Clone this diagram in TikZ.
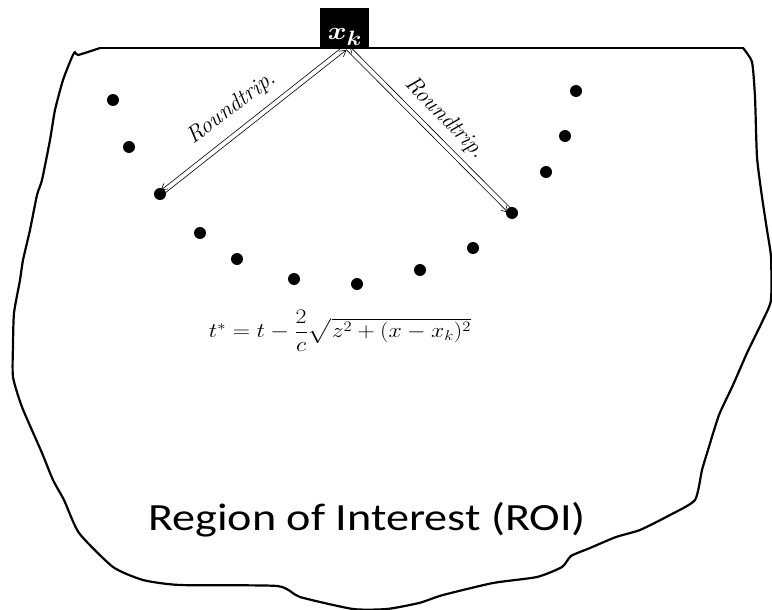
\documentclass[tikz,border=0pt]{standalone}
\usepackage{amsmath}
\usepackage{graphicx}
\usepackage{fontspec}
\newfontfamily\roifont{Carlito}
\usetikzlibrary{calc,arrows.meta}
\begin{document}
\begin{tikzpicture}[x=1pt,y=-1pt,
  outline/.style={line width=2.2pt,line join=round,line cap=round},
  dotnode/.style={circle,fill=black,inner sep=0pt,minimum size=12pt},
  trip/.style={line width=0.6pt,-{Straight Barb[length=6pt,width=7pt,line width=0.6pt]}},
  triplabel/.style={font=\fontsize{23}{23}\selectfont\itshape,inner sep=1pt}]
\useasboundingbox (0,0) rectangle (772,610);
% region outline
\draw[outline] plot[smooth,tension=0.35] coordinates {
 (100,48) (78,55) (75,52) (72,57) (63,80) (55,110) (50,140) (42,180) (37,195) (30,230) (23,260) (20,280) (14,313) (13,345) (13,377) (22,407) (42,453) (53,480) (64,500) (79,533) (113,567) (143,580) (180,585) (277,586) (300,597) (353,609) (387,609) (419,603) (443,595) (493,583) (537,577) (562,567) (571,556) (590,548) (616,537) (640,530) (670,515) (695,500) (702,470) (708,450) (719,415) (733,385) (747,353) (763,320) (771,300) (771,257) (767,230) (762,197) (757,157) (755,97) (752,62) (743,48)};
\draw[outline] (100,48) -- (743,48);
% x_k box
\node[fill=black,text=white,minimum width=49pt,minimum height=41pt,inner sep=0pt] (xk) at (344.5,28.5) {};
\node[text=white,inner sep=0pt,anchor=base] (xktext) at (345,40) {\scalebox{1.15}[1]{\fontsize{30}{30}\selectfont$\boldsymbol{x_k}$}};
% dots
\foreach \n/\p in {d1/{(113,100)},d2/{(129,147)},d3/{(160,194)},d4/{(200,233)},d5/{(237,259)},d6/{(294,279)},d7/{(357,284)},d8/{(420,270)},d9/{(473,248)},d10/{(512,213)},d11/{(546,172)},d12/{(565,136)},d13/{(576,91)}}
  \node[dotnode] (\n) at \p {};
% roundtrip arrows
\coordinate (lt) at (345,48);
\coordinate (rt) at (348,48);
\draw[trip,shorten >=3pt] ($(lt)!2.4pt!-90:(d3)$) -- ($(d3)!2.4pt!90:(lt)$);
\draw[trip,shorten <=4pt] ($(d3)!2.4pt!-90:(lt)$) -- ($(lt)!2.4pt!90:(d3)$);
\draw[trip,shorten >=3pt] ($(rt)!2.4pt!-90:(d10)$) -- ($(d10)!2.4pt!90:(rt)$);
\draw[trip,shorten <=4pt] ($(d10)!2.4pt!-90:(rt)$) -- ($(rt)!2.4pt!90:(d10)$);
\node[triplabel,rotate=37] (lab1) at (232,108) {Roundtrip.};
\node[triplabel,rotate=-46] (lab2) at (445,118) {Roundtrip.};
% formula
\node[inner sep=0pt] (eq) at (340,331) {\scalebox{1.15}[1]{\fontsize{20}{24}\selectfont$t^{*}=t-\dfrac{2}{c}\sqrt{z^{2}+(x-x_{k})^{2}}$}};
% ROI label
\node[inner sep=0pt,anchor=base] (roi) at (367,530) {\scalebox{1.2}[1]{\roifont\fontsize{38.5}{40}\selectfont Region of Interest (ROI)}};
\end{tikzpicture}
\end{document}
